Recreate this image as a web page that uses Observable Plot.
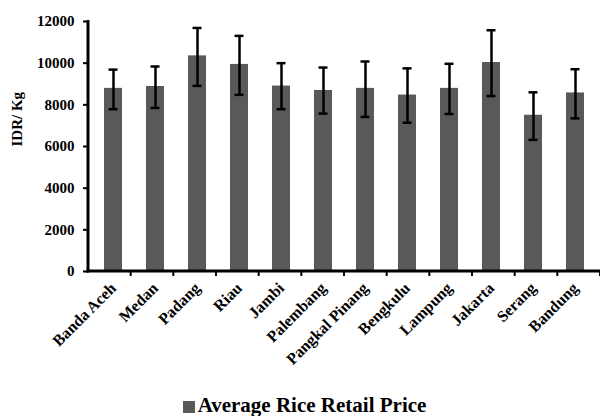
<!DOCTYPE html>
<html>
<head>
<meta charset="utf-8">
<script src="https://cdn.jsdelivr.net/npm/d3@7"></script>
<script src="https://cdn.jsdelivr.net/npm/@observablehq/plot@0.6"></script>
<style>
  html, body { margin: 0; padding: 0; background: #fff; }
  #chart { width: 600px; }
  #legend { height: 36px; box-sizing: border-box; padding-top: 13px; padding-left: 9px; text-align: center; white-space: nowrap;
    font-family: "Liberation Serif", serif; font-weight: bold; font-size: 21px; line-height: 24px; color: #000; }
  #legend .sw { display: inline-block; width: 12px; height: 12px; background: #595959; margin-right: 3px; vertical-align: -1px; }
</style>
</head>
<body>
<div id="chart"></div>
<div id="legend"><span class="sw"></span>Average Rice Retail Price</div>
<script>
const cities = ["Banda Aceh", "Medan", "Padang", "Riau", "Jambi", "Palembang", "Pangkal Pinang", "Bengkulu", "Lampung", "Jakarta", "Serang", "Bandung"];
const price = [8790, 8880, 10350, 9940, 8900, 8690, 8790, 8470, 8790, 10030, 7500, 8570];
const upper = [9690, 9840, 11690, 11310, 10000, 9790, 10080, 9750, 9970, 11580, 8600, 9710];
const lower = [7790, 7850, 8910, 8480, 7790, 7580, 7420, 7140, 7560, 8420, 6320, 7350];
const yTicks = [0, 2000, 4000, 6000, 8000, 10000, 12000];
const yLabel = "IDR/ Kg";

const data = cities.map((c, i) => ({city: c, price: price[i], hi: upper[i], lo: lower[i]}));

const frameLines = (index, scales, values, dims) => {
  const g = d3.create("svg:g");
  const x0 = dims.marginLeft, x1 = dims.width - dims.marginRight;
  const yb = dims.height - dims.marginBottom, yt = dims.marginTop;
  const step = (x1 - x0) / cities.length;
  for (let i = 1; i <= cities.length; i++) {
    g.append("line").attr("x1", x0 + i * step).attr("x2", x0 + i * step)
      .attr("y1", yb).attr("y2", yb + 5).attr("stroke", "black").attr("stroke-width", 2);
  }
  g.append("line").attr("x1", x0).attr("x2", x0).attr("y1", yt - 1).attr("y2", yb + 1.5)
    .attr("stroke", "black").attr("stroke-width", 3);
  g.append("line").attr("x1", x0 - 1.5).attr("x2", x1).attr("y1", yb).attr("y2", yb)
    .attr("stroke", "black").attr("stroke-width", 3);
  return g.node();
};

const chart = Plot.plot({
  width: 600,
  height: 380,
  marginLeft: 88,
  marginRight: 0,
  marginTop: 21,
  marginBottom: 109,
  style: {fontFamily: "Liberation Serif", fontWeight: "bold", color: "black", background: "white"},
  x: {domain: cities, paddingInner: 0.56, paddingOuter: 0.28, label: null},
  y: {domain: [0, 12000], label: null},
  marks: [
    Plot.barY(data, {x: "city", y: "price", fill: "#595959"}),
    Plot.ruleX(data, {x: "city", y1: "lo", y2: "hi", stroke: "black", strokeWidth: 2.5}),
    Plot.tickY(data, {x: "city", y: "hi", stroke: "black", strokeWidth: 2.5, insetLeft: 4.5, insetRight: 4.5}),
    Plot.tickY(data, {x: "city", y: "lo", stroke: "black", strokeWidth: 2.5, insetLeft: 4.5, insetRight: 4.5}),
    Plot.axisY({ticks: yTicks, tickFormat: d => String(d), tickSize: 5, tickPadding: 9, fontSize: 15, strokeWidth: 2, label: null}),
    Plot.axisX({tickRotate: -45, tickSize: 0, tickPadding: 14, fontSize: 16, label: null}),
    Plot.text([yLabel], {frameAnchor: "left", rotate: -90, dx: -71, fontSize: 15, fontWeight: "bold"}),
    frameLines
  ]
});
document.getElementById("chart").appendChild(chart);
</script>
</body>
</html>
